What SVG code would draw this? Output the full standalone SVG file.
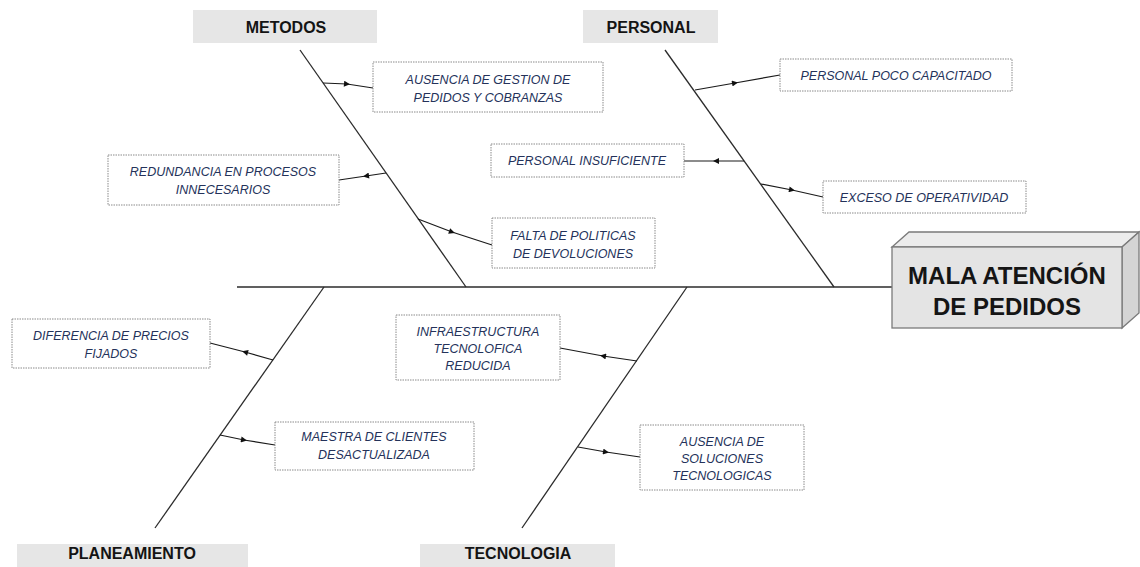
<svg xmlns="http://www.w3.org/2000/svg" width="1140" height="567" viewBox="0 0 1140 567">
  <style>
    .cat rect { fill: #e6e6e6; }
    .cat text { font-family: "Liberation Sans", Arial, sans-serif; font-weight: bold; font-size: 16px; fill: #141414; text-anchor: middle; }
    .cause rect { fill: #ffffff; stroke: #8a8a8a; stroke-width: 1; stroke-dasharray: 1.5 1; }
    .cause text { font-family: "Liberation Sans", Arial, sans-serif; font-style: italic; font-size: 12.5px; fill: #24325a; text-anchor: middle; }
    .bone { stroke: #2b2b2b; stroke-width: 1.3; fill: none; }
    .link { stroke: #1a1a1a; stroke-width: 1.2; fill: none; marker-mid: url(#arrow); }
    .head { font-family: "Liberation Sans", Arial, sans-serif; font-weight: bold; font-size: 24px; fill: #151515; text-anchor: middle; }
  </style>
  <defs>
    <marker id="arrow" viewBox="0 0 10 10" refX="5" refY="5" markerWidth="8" markerHeight="6" markerUnits="userSpaceOnUse" orient="auto">
      <path d="M0,0 L10,5 L0,10 z" fill="#111"/>
    </marker>
  </defs>

  <rect width="1140" height="567" fill="#ffffff"/>

  <!-- spine and category bones -->
  <g id="connectors">
    <line class="bone" x1="237" y1="287" x2="892" y2="287"/>
    <line class="bone" x1="300" y1="50" x2="466" y2="287"/>
    <line class="bone" x1="665" y1="50" x2="834" y2="287"/>
    <line class="bone" x1="324" y1="287" x2="155" y2="528"/>
    <line class="bone" x1="687" y1="287" x2="522" y2="528"/>

    <!-- cause arrows: bone -> arrowhead -> box -->
    <path class="link" d="M323,83 L347,84 L373,88"/>
    <path class="link" d="M386,173 L366,176 L339,180"/>
    <path class="link" d="M418,219 L452,232 L492,245"/>
    <path class="link" d="M695,90 L735,83 L780,75"/>
    <path class="link" d="M744,161 L716,161 L684,161"/>
    <path class="link" d="M761,184 L792,190 L823,197"/>
    <path class="link" d="M273,360 L245,352 L210,343"/>
    <path class="link" d="M637,361 L603,356 L560,348"/>
    <path class="link" d="M220,435 L244,440 L275,445"/>
    <path class="link" d="M578,447 L606,452 L640,457"/>
  </g>

  <!-- category headers -->
  <g id="cat-metodos" class="cat">
    <rect x="193" y="10" width="184" height="33"/>
    <text x="286" y="33">METODOS</text>
  </g>
  <g id="cat-personal" class="cat">
    <rect x="583" y="10" width="135" height="33"/>
    <text x="651" y="33">PERSONAL</text>
  </g>
  <g id="cat-planeamiento" class="cat">
    <rect x="17" y="544" width="231" height="30"/>
    <text x="132" y="559">PLANEAMIENTO</text>
  </g>
  <g id="cat-tecnologia" class="cat">
    <rect x="420" y="544" width="195" height="30"/>
    <text x="518" y="559">TECNOLOGIA</text>
  </g>

  <!-- causes -->
  <g id="c-ausencia-gestion" class="cause">
    <rect x="373" y="62" width="230" height="50"/>
    <text x="488" y="84">AUSENCIA DE GESTION DE</text>
    <text x="488" y="102">PEDIDOS Y COBRANZAS</text>
  </g>
  <g id="c-redundancia" class="cause">
    <rect x="108" y="155" width="231" height="50"/>
    <text x="223" y="176">REDUNDANCIA EN PROCESOS</text>
    <text x="223" y="194">INNECESARIOS</text>
  </g>
  <g id="c-falta-politicas" class="cause">
    <rect x="492" y="218" width="163" height="50"/>
    <text x="573" y="240">FALTA DE POLITICAS</text>
    <text x="573" y="258">DE DEVOLUCIONES</text>
  </g>
  <g id="c-personal-poco" class="cause">
    <rect x="780" y="59" width="232" height="32"/>
    <text x="896" y="80">PERSONAL POCO CAPACITADO</text>
  </g>
  <g id="c-personal-insuficiente" class="cause">
    <rect x="491" y="144" width="193" height="33"/>
    <text x="587" y="165">PERSONAL INSUFICIENTE</text>
  </g>
  <g id="c-exceso" class="cause">
    <rect x="823" y="181" width="203" height="32"/>
    <text x="924" y="202">EXCESO DE OPERATIVIDAD</text>
  </g>
  <g id="c-diferencia" class="cause">
    <rect x="12" y="319" width="198" height="49"/>
    <text x="111" y="340">DIFERENCIA DE PRECIOS</text>
    <text x="111" y="358">FIJADOS</text>
  </g>
  <g id="c-infraestructura" class="cause">
    <rect x="396" y="315" width="164" height="65"/>
    <text x="478" y="336">INFRAESTRUCTURA</text>
    <text x="478" y="353">TECNOLOFICA</text>
    <text x="478" y="370">REDUCIDA</text>
  </g>
  <g id="c-maestra" class="cause">
    <rect x="275" y="422" width="199" height="48"/>
    <text x="374" y="441">MAESTRA DE CLIENTES</text>
    <text x="374" y="459">DESACTUALIZADA</text>
  </g>
  <g id="c-ausencia-soluciones" class="cause">
    <rect x="640" y="425" width="164" height="65"/>
    <text x="722" y="446">AUSENCIA DE</text>
    <text x="722" y="463">SOLUCIONES</text>
    <text x="722" y="480">TECNOLOGICAS</text>
  </g>

  <!-- effect: 3D box -->
  <g id="effect">
    <polygon points="892,247 909,232 1139,232 1122,247" fill="#ececec" stroke="#7a7a7a" stroke-width="1.3"/>
    <polygon points="1122,247 1139,232 1139,313 1122,328" fill="#d4d4d4" stroke="#7a7a7a" stroke-width="1.3"/>
    <rect x="892" y="247" width="230" height="81" fill="#e4e4e4" stroke="#7a7a7a" stroke-width="1.3"/>
    <text class="head" x="1007" y="284">MALA ATENCIÓN</text>
    <text class="head" x="1007" y="315">DE PEDIDOS</text>
  </g>
</svg>
